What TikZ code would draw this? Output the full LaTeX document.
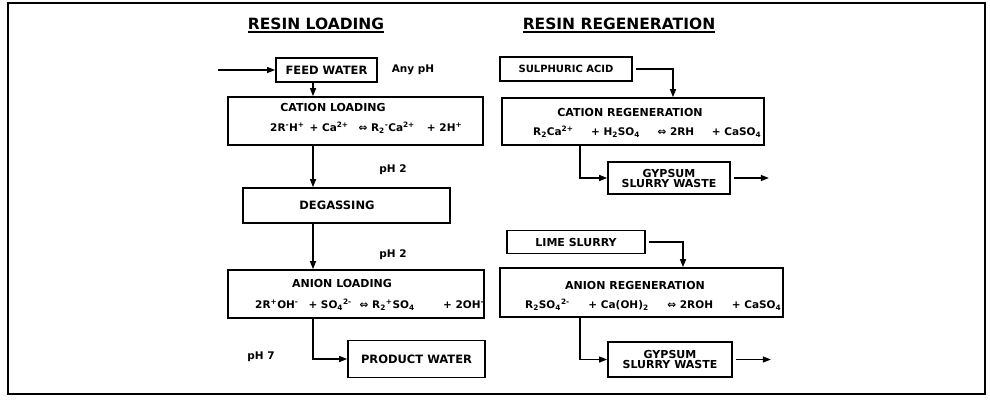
\documentclass[tikz,border=0pt]{standalone}
\usepackage{fontspec}
\setmainfont{DejaVu Sans}
\usetikzlibrary{arrows.meta}
\newcommand{\sbp}[1]{\textsuperscript{#1}}
\newcommand{\sbb}[1]{\textsubscript{#1}}
\begin{document}
\begin{tikzpicture}[x=1pt,y=-1pt,
  box/.style={draw, line width=1.7pt, inner sep=0pt},
  txt/.style={inner sep=0pt, font=\bfseries\fontsize{#1}{#1}\selectfont},
  eq/.style={inner sep=0pt, anchor=west, font=\bfseries\fontsize{10.5}{11}\selectfont},
  arr/.style={line width=1.3pt, -{Triangle[length=8pt,width=6pt]}}]
\useasboundingbox (0,0) rectangle (990,404);
\node[draw, line width=1.2pt, minimum width=977pt, minimum height=391pt, inner sep=0pt] (frame) at (496.5,198.5) {};
% headings
\node[txt=15.5] (h1) at (316,24) {RESIN LOADING};
\node[txt=15.5] (h2) at (619,24) {RESIN REGENERATION};
\draw[line width=1.6pt] ([yshift=-2pt]h1.south west) -- ([yshift=-2pt]h1.south east);
\draw[line width=1.6pt] ([yshift=-2pt]h2.south west) -- ([yshift=-2pt]h2.south east);
% loading column
\node[box, minimum width=101pt, minimum height=24pt] (feed) at (326.5,70) {};
\node[txt=11.5] (feedt) at (feed.center) {FEED WATER};
\node[txt=10.5] (anyph) at (413,70) {Any pH};
\node[box, minimum width=255pt, minimum height=48pt] (cload) at (355.5,121) {};
\node[txt=11] (cloadt) at (333,107) {CATION LOADING};
\node[eq] (cloade) at (270,128) {\makebox[192pt][l]{2R\sbp{-}H\sbp{+}\hspace{5pt}+ Ca\sbp{2+}\hspace{10pt}⇔ R\sbb{2}\sbp{-}Ca\sbp{2+}\hfill+ 2H\sbp{+}}};
\node[txt=10.5] (ph2a) at (393,170) {pH 2};
\node[box, minimum width=207pt, minimum height=35pt] (degas) at (346.5,205.5) {};
\node[txt=11.5] (degast) at (337,205.5) {DEGASSING};
\node[txt=10.5] (ph2b) at (393,255) {pH 2};
\node[box, minimum width=256pt, minimum height=48pt] (aload) at (356,294) {};
\node[txt=11] (aloadt) at (342,283) {ANION LOADING};
\node[eq] (aloade) at (255,305) {\makebox[229pt][l]{2R\sbp{+}OH\sbp{-}\hspace{10pt}+ SO\sbb{4}\sbp{2-}\hspace{8pt}⇔ R\sbb{2}\sbp{+}SO\sbb{4}\hfill+ 2OH\sbp{-}}};
\node[txt=10.5] (ph7) at (261,357) {pH 7};
\node[box, minimum width=137pt, minimum height=37pt] (prod) at (416.5,359) {};
\node[txt=11.5] (prodt) at (prod.center) {PRODUCT WATER};
% regeneration column
\node[box, minimum width=132pt, minimum height=24pt] (sulph) at (566,69) {};
\node[txt=10] (sulpht) at (sulph.center) {SULPHURIC ACID};
\node[box, minimum width=262pt, minimum height=47pt] (creg) at (633,121.5) {};
\node[txt=11] (cregt) at (630,112) {CATION REGENERATION};
\node[eq] (crege) at (533,132) {\makebox[228pt][l]{R\sbb{2}Ca\sbp{2+}\hfill+ H\sbb{2}SO\sbb{4}\hfill⇔ 2RH\hfill+ CaSO\sbb{4}}};
\node[box, minimum width=122pt, minimum height=32pt] (gyp1) at (669,178) {};
\node[txt=11, align=center] (gyp1t) at (gyp1.center) {GYPSUM\\[-1pt]SLURRY WASTE};
\node[box, minimum width=138pt, minimum height=23pt] (lime) at (576,242) {};
\node[txt=11] (limet) at (lime.center) {LIME SLURRY};
\node[box, minimum width=283pt, minimum height=49pt] (areg) at (641.5,292.5) {};
\node[txt=11] (aregt) at (635,285) {ANION REGENERATION};
\node[eq] (arege) at (525,305) {\makebox[256pt][l]{R\sbb{2}SO\sbb{4}\sbp{2-}\hfill+ Ca(OH)\sbb{2}\hfill⇔ 2ROH\hfill+ CaSO\sbb{4}}};
\node[box, minimum width=124pt, minimum height=35pt] (gyp2) at (670,359.5) {};
\node[txt=11, align=center] (gyp2t) at (gyp2.center) {GYPSUM\\[-1pt]SLURRY WASTE};
% helper coordinates
\coordinate (in) at (218,70);
\coordinate (xl) at (313,0);
\coordinate (xr1) at (673,0);
\coordinate (xr2) at (580,0);
\coordinate (xr3) at (683,0);
% connectors
\draw[arr] (in) -- (feed.west);
\draw[arr] (feed.south -| xl) -- (cload.north -| xl);
\draw[arr] (cload.south -| xl) -- (degas.north -| xl);
\draw[arr] (degas.south -| xl) -- (aload.north -| xl);
\draw[arr] (aload.south -| xl) |- (prod.west);
\draw[arr] ([xshift=3pt]sulph.east) -| (creg.north -| xr1);
\draw[arr] (creg.south -| xr2) |- (gyp1.west);
\draw[arr] ([xshift=3pt]gyp1.east) -- ++(35,0) coordinate (o1);
\draw[arr] ([xshift=3pt]lime.east) -| (areg.north -| xr3);
\draw[arr] (areg.south -| xr2) |- (gyp2.west);
\draw[arr] ([xshift=3pt]gyp2.east) -- ++(35,0) coordinate (o2);
\end{tikzpicture}
\end{document}
